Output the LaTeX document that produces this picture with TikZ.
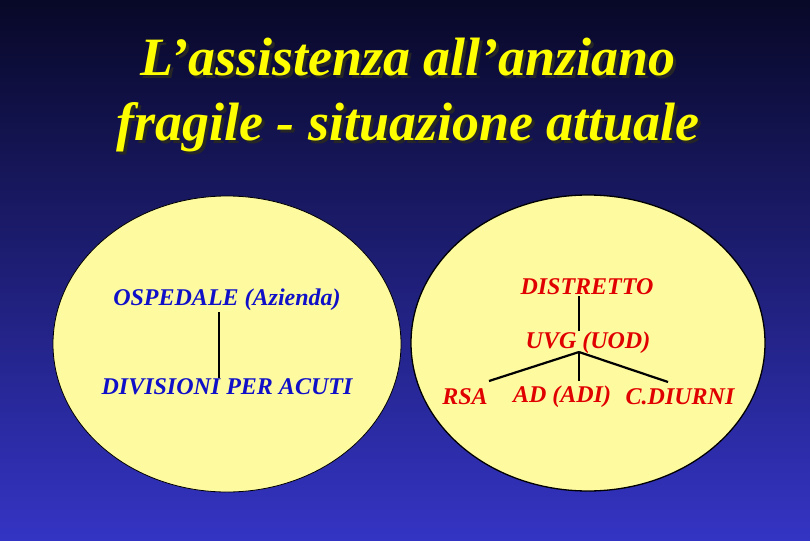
\documentclass[tikz,border=0pt]{standalone}
\usepackage{fontspec}
\setmainfont{Liberation Serif}
\usetikzlibrary{positioning}

\definecolor{fondoalto}{RGB}{8,8,40}
\definecolor{fondobasso}{RGB}{52,52,196}
\definecolor{giallino}{RGB}{253,250,160}
\definecolor{blutesto}{RGB}{16,16,200}
\definecolor{rossotesto}{RGB}{225,0,0}
\definecolor{giallotitolo}{RGB}{255,255,0}

\tikzset{
  titolo/.style={font=\fontsize{54}{65}\selectfont\bfseries\itshape, align=center, inner sep=0pt},
  voceblu/.style={text=blutesto, font=\fontsize{24}{28}\selectfont\bfseries\itshape, inner sep=1pt},
  vocerossa/.style={text=rossotesto, font=\fontsize{24}{28}\selectfont\bfseries\itshape, inner sep=1pt},
  insieme/.style={draw=black, fill=giallino},
  ramo/.style={line width=2.2pt}
}

\begin{document}
\begin{tikzpicture}[x=1pt, y=-1pt]
  % Sfondo
  \shade[top color=fondoalto, bottom color=fondobasso] (0,0) rectangle (810,540);
  \useasboundingbox (0,0) rectangle (810,540);

  % Titolo (ombra e testo)
  \node[titolo, text=black!85] (ombra) at (411,98) {L’assistenza all’anziano\\fragile - situazione attuale};
  \node[titolo, text=giallotitolo] (titolo) at (408,95) {L’assistenza all’anziano\\fragile - situazione attuale};

  % Insiemi
  \draw[insieme, line width=0.8pt] (227,344) ellipse [x radius=174, y radius=148];
  \draw[insieme, line width=1.3pt] (588,343) ellipse [x radius=177, y radius=148];

  % Ospedale
  \node[voceblu] (osp) at (227,300) {OSPEDALE (Azienda)};
  \node[voceblu] (div) at (227,387) {DIVISIONI PER ACUTI};
  \draw[ramo] ([xshift=-8pt]osp.south) -- ([xshift=-8pt]div.north);

  % Distretto
  \node[vocerossa] (dist) at (587,287) {DISTRETTO};
  \node[vocerossa] (uvg) at (588,343) {UVG (UOD)};
  \node[vocerossa] (rsa) at (465,397) {RSA};
  \node[vocerossa] (ad) at (562,397) {AD (ADI)};
  \node[vocerossa] (cd) at (680,397) {C.DIURNI};
  \draw[ramo] ([xshift=-8pt]dist.south) -- ([xshift=-9pt]uvg.north);

  % Diramazioni
  \coordinate (nodo) at (579,352);
  \coordinate (fsx) at (489,381);
  \coordinate (fcen) at (579,381);
  \coordinate (fdx) at (668,382);
  \draw[ramo] (nodo) -- (fsx);
  \draw[ramo] (nodo) -- (fcen);
  \draw[ramo] (nodo) -- (fdx);
\end{tikzpicture}
\end{document}
